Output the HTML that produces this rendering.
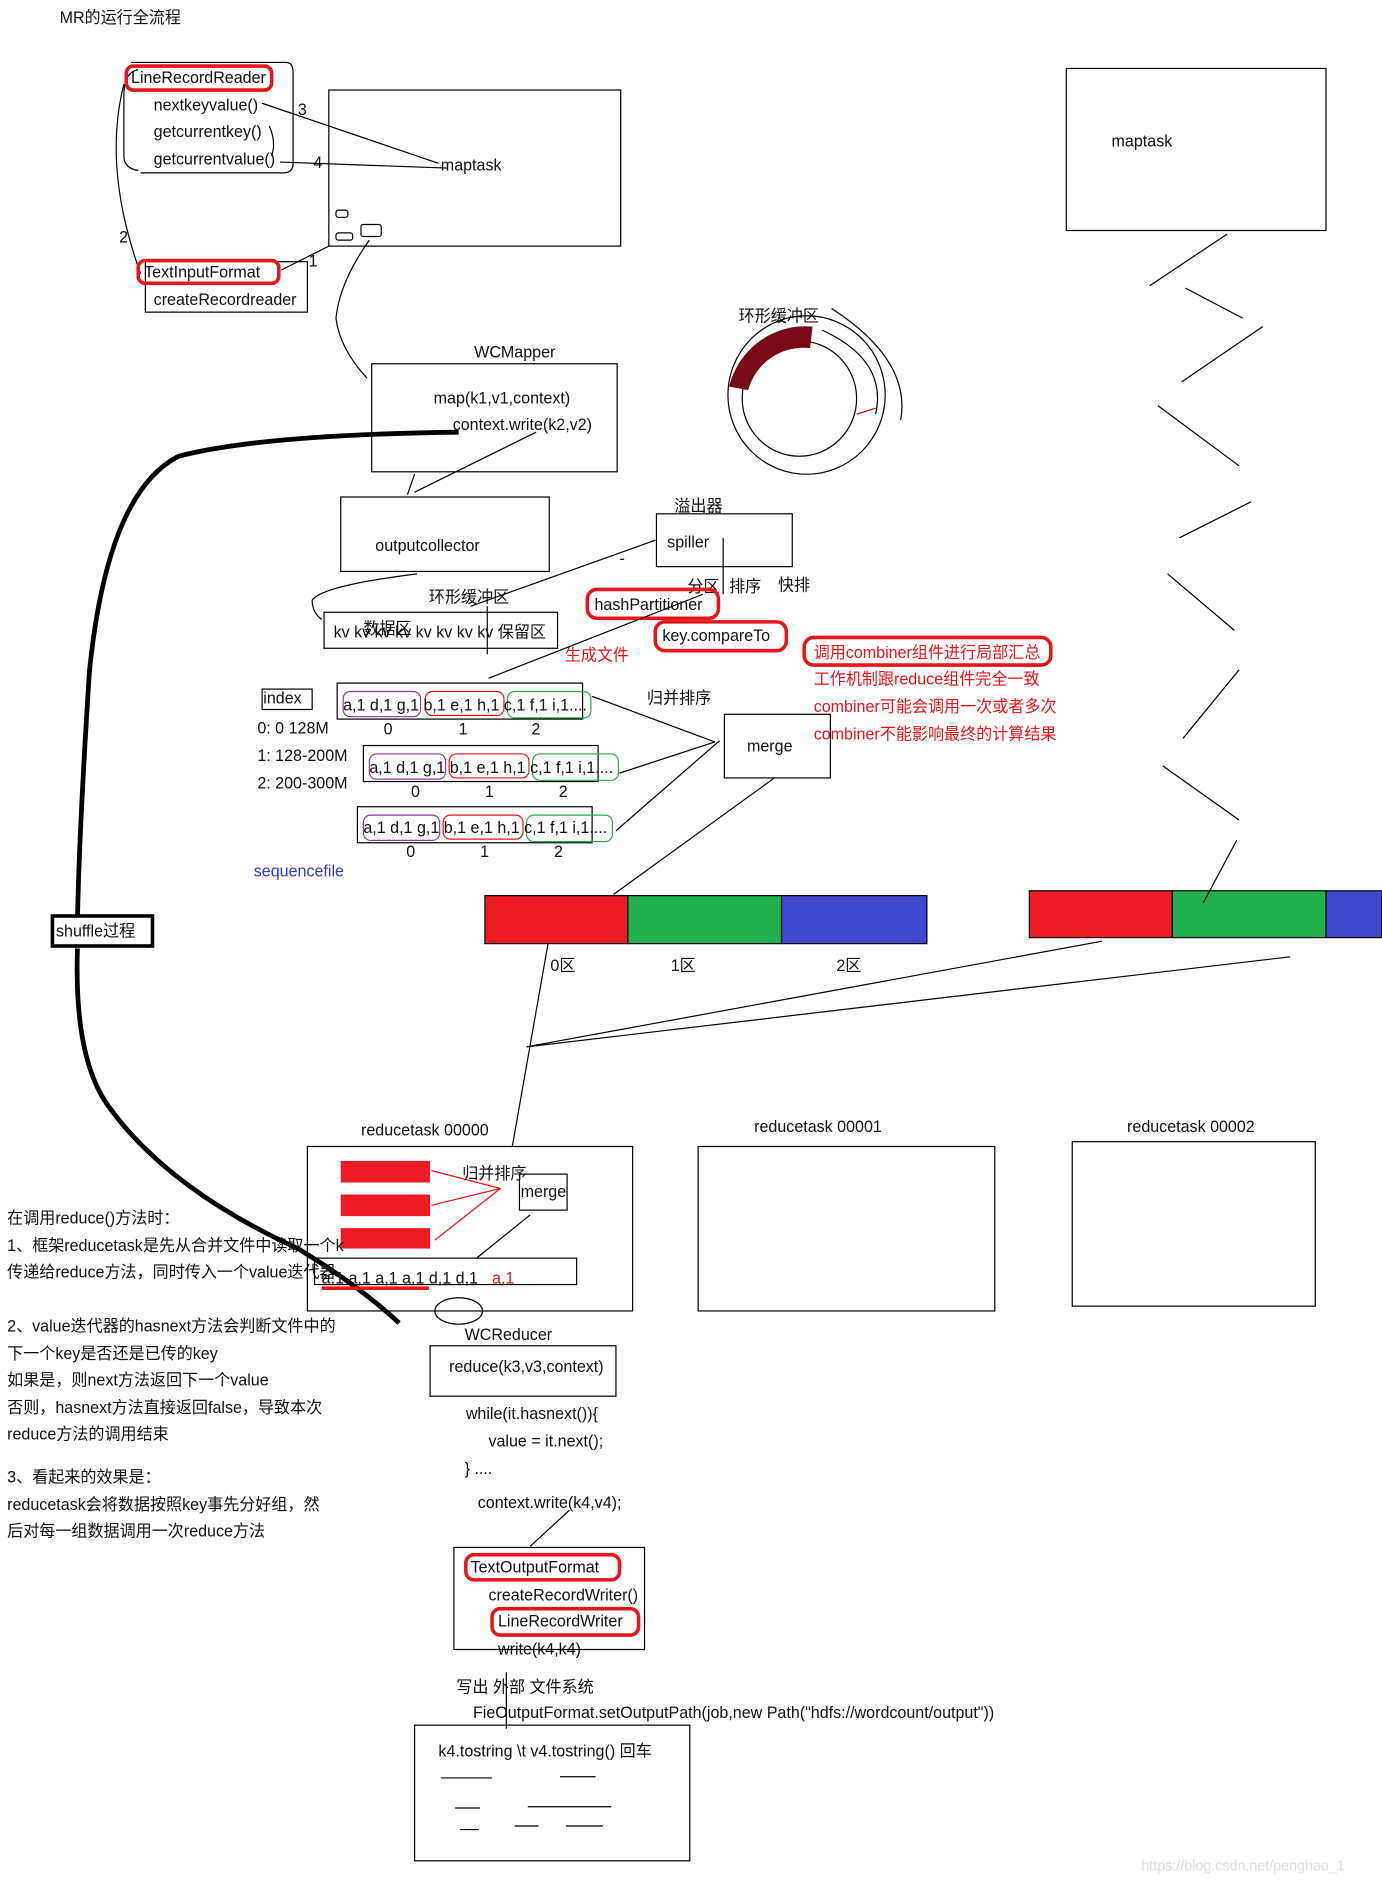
<!DOCTYPE html>
<html><head><meta charset="utf-8"><style>
html,body{margin:0;padding:0;background:#fff;}
svg{display:block;}
text{font-family:"Liberation Sans","Noto Sans CJK SC",sans-serif;font-size:13.5px;fill:#111;stroke:none;}
.r{fill:#e8161b;}
.b{fill:#3a3ad0;}
</style></head><body>
<svg width="1382" height="1880" viewBox="0 0 1160 1566" preserveAspectRatio="none" xmlns="http://www.w3.org/2000/svg">
<g fill="none" stroke="#000" stroke-width="1">
<text x="50" y="19">MR的运行全流程</text>

<path d="M110 52 H240 Q246 52 246 60 V136 Q246 144 238 144 H118"/>
<path d="M116 58 Q104 60 104 80 V130 Q104 140 116 142"/>
<rect x="106" y="55" width="122" height="20" rx="6" stroke="#e8161b" stroke-width="3"/>
<text x="110" y="69">LineRecordReader</text>
<text x="129" y="92">nextkeyvalue()</text>
<text x="129" y="114">getcurrentkey()</text>
<text x="129" y="137">getcurrentvalue()</text>
<text x="250" y="96">3</text>
<text x="263" y="140">4</text>
<line x1="220" y1="86" x2="368" y2="136"/>
<line x1="235" y1="135" x2="375" y2="140"/>
<path d="M226 105 Q232 118 228 130"/>
<path d="M104 70 Q86 140 118 228"/>
<text x="100" y="202">2</text>

<rect x="276" y="75" width="245" height="130"/>
<text x="370" y="142">maptask</text>
<rect x="282" y="175" width="10" height="6" rx="2"/>
<rect x="282" y="194" width="14" height="6" rx="2"/>
<rect x="303" y="187" width="17" height="10" rx="2"/>

<rect x="122" y="218" width="136" height="42"/>
<rect x="116" y="217" width="118" height="19" rx="6" stroke="#e8161b" stroke-width="3"/>
<text x="121" y="231">TextInputFormat</text>
<text x="129" y="254">createRecordreader</text>
<text x="259" y="222">1</text>
<line x1="236" y1="225" x2="276" y2="205"/>
<path d="M310 200 Q285 235 282 265 Q285 290 308 315"/>

<rect x="895" y="57" width="218" height="135"/>
<text x="933" y="122">maptask</text>

<text x="398" y="298">WCMapper</text>
<rect x="312" y="303" width="206" height="90"/>
<text x="364" y="336">map(k1,v1,context)</text>
<text x="380" y="358">context.write(k2,v2)</text>
<line x1="450" y1="360" x2="348" y2="410"/>
<line x1="348" y1="395" x2="342" y2="412"/>

<rect x="286" y="414" width="175" height="62"/>
<text x="315" y="459">outputcollector</text>
<path d="M350 478 Q270 488 262 500 Q262 510 270 516"/>
<text x="360" y="502">环形缓冲区</text>
<rect x="272" y="510" width="196" height="30"/>
<line x1="409" y1="505" x2="409" y2="545"/>
<text x="280" y="531">kv kv kv kv kv kv kv kv 保留区</text>
<text x="305" y="528">数据区</text>
<line x1="395" y1="505" x2="550" y2="450"/>
<text x="520" y="470">-</text>

<text x="620" y="268">环形缓冲区</text>
<circle cx="677" cy="329" r="66"/>
<circle cx="671" cy="332" r="48"/>
<path d="M612 322 A66 66 0 0 1 682 272 L680 290 A48 48 0 0 0 628 325 Z" fill="#7a0a18" stroke="none"/>
<path d="M698 257 Q765 300 756 350"/>
<path d="M690 275 Q745 300 735 345"/>
<line x1="719" y1="345" x2="735" y2="340" stroke="#c00"/>

<text x="566" y="426">溢出器</text>
<rect x="551" y="428" width="114" height="44"/>
<text x="560" y="456">spiller</text>
<line x1="607" y1="448" x2="607" y2="495"/>
<text x="577" y="493">分区</text>
<text x="612" y="493">排序</text>
<text x="653" y="492">快排</text>
<rect x="493" y="491" width="110" height="24" rx="8" stroke="#e8161b" stroke-width="3"/>
<text x="499" y="508">hashPartitioner</text>
<rect x="550" y="518" width="110" height="24" rx="8" stroke="#e8161b" stroke-width="3"/>
<text x="556" y="534">key.compareTo</text>
<text x="474" y="550" class="r">生成文件</text>
<line x1="590" y1="495" x2="410" y2="565"/>

<rect x="675" y="531" width="207" height="23" rx="8" stroke="#e8161b" stroke-width="3"/>
<text x="683" y="548" class="r">调用combiner组件进行局部汇总</text>
<text x="683" y="570" class="r">工作机制跟reduce组件完全一致</text>
<text x="683" y="593" class="r">combiner可能会调用一次或者多次</text>
<text x="683" y="616" class="r">combiner不能影响最终的计算结果</text>

<rect x="220" y="574" width="42" height="17"/>
<text x="221" y="586">index</text>
<text x="216" y="611">0: 0 128M</text>
<text x="216" y="634">1: 128-200M</text>
<text x="216" y="657">2: 200-300M</text>
<text x="543" y="586">归并排序</text>

<rect x="283" y="569" width="206" height="30"/>
<rect x="288" y="576" width="65" height="21" rx="6" stroke="#8a3aa8"/>
<rect x="357" y="576" width="66" height="20" rx="6" stroke="#e8161b"/>
<rect x="426" y="576" width="70" height="22" rx="6" stroke="#2aa84a"/>
<text x="288" y="592">a,1 d,1 g,1 b,1 e,1 h,1 c,1 f,1 i,1....</text>
<text x="322" y="612">0</text><text x="385" y="612">1</text><text x="446" y="612">2</text>

<rect x="305" y="621" width="197" height="30"/>
<rect x="310" y="628" width="64" height="21" rx="6" stroke="#8a3aa8"/>
<rect x="377" y="628" width="67" height="20" rx="6" stroke="#e8161b"/>
<rect x="447" y="628" width="72" height="22" rx="6" stroke="#2aa84a"/>
<text x="310" y="644">a,1 d,1 g,1 b,1 e,1 h,1 c,1 f,1 i,1....</text>
<text x="345" y="664">0</text><text x="407" y="664">1</text><text x="469" y="664">2</text>

<rect x="300" y="672" width="197" height="30"/>
<rect x="305" y="679" width="64" height="21" rx="6" stroke="#8a3aa8"/>
<rect x="372" y="679" width="67" height="20" rx="6" stroke="#e8161b"/>
<rect x="442" y="679" width="72" height="22" rx="6" stroke="#2aa84a"/>
<text x="305" y="694">a,1 d,1 g,1 b,1 e,1 h,1 c,1 f,1 i,1....</text>
<text x="341" y="714">0</text><text x="403" y="714">1</text><text x="465" y="714">2</text>
<text x="213" y="730" class="b">sequencefile</text>

<rect x="608" y="595" width="89" height="53"/>
<text x="627" y="626">merge</text>
<line x1="497" y1="580" x2="600" y2="618"/>
<line x1="520" y1="644" x2="600" y2="618"/>
<line x1="517" y1="692" x2="604" y2="617"/>
<line x1="650" y1="648" x2="515" y2="745"/>

<rect x="407" y="746" width="120" height="40" fill="#ed1c24"/>
<rect x="527" y="746" width="129" height="40" fill="#22b14c"/>
<rect x="656" y="746" width="122" height="40" fill="#3f48cc"/>
<text x="462" y="809">0区</text>
<text x="563" y="809">1区</text>
<text x="702" y="809">2区</text>
<rect x="864" y="742" width="120" height="39" fill="#ed1c24"/>
<rect x="984" y="742" width="129" height="39" fill="#22b14c"/>
<rect x="1113" y="742" width="47" height="39" fill="#3f48cc"/>

<line x1="460" y1="786" x2="430" y2="955"/>
<line x1="442" y1="872" x2="925" y2="784"/>
<line x1="442" y1="872" x2="1083" y2="797"/>

<line x1="1030" y1="195" x2="965" y2="238"/>
<line x1="995" y1="240" x2="1043" y2="265"/>
<line x1="1060" y1="272" x2="992" y2="318"/>
<line x1="972" y1="338" x2="1040" y2="388"/>
<line x1="1050" y1="418" x2="990" y2="448"/>
<line x1="980" y1="478" x2="1036" y2="525"/>
<line x1="1040" y1="558" x2="993" y2="615"/>
<line x1="976" y1="638" x2="1040" y2="683"/>
<line x1="1038" y1="700" x2="1010" y2="752"/>

<path d="M385 360 Q220 362 150 380 Q90 410 75 560 Q66 700 65 770" stroke-width="4"/>
<path d="M65 790 Q62 880 90 920 Q140 990 250 1040 Q300 1070 335 1102" stroke-width="4"/>
<rect x="44" y="763" width="84" height="25" fill="#fff" stroke-width="3"/>
<text x="47" y="780">shuffle过程</text>

<text x="303" y="946">reducetask 00000</text>
<rect x="258" y="955" width="273" height="137"/>
<text x="633" y="943">reducetask 00001</text>
<rect x="586" y="955" width="249" height="137"/>
<text x="946" y="943">reducetask 00002</text>
<rect x="900" y="951" width="204" height="137"/>

<rect x="286" y="967" width="75" height="18" fill="#ed1c24" stroke="none"/>
<rect x="286" y="995" width="75" height="18" fill="#ed1c24" stroke="none"/>
<rect x="286" y="1023" width="75" height="17" fill="#ed1c24" stroke="none"/>
<g stroke="#e8161b"><line x1="362" y1="975" x2="420" y2="990"/><line x1="362" y1="1004" x2="420" y2="990"/><line x1="365" y1="1033" x2="420" y2="990"/></g>
<text x="388" y="982">归并排序</text>
<rect x="436" y="978" width="40" height="30"/>
<text x="437" y="997">merge</text>
<line x1="445" y1="1012" x2="400" y2="1048"/>
<rect x="264" y="1048" width="220" height="22"/>
<text x="270" y="1069">a,1 a,1 a,1 a,1 d,1 d,1</text>
<text x="413" y="1069" class="r">a,1</text>
<line x1="270" y1="1073" x2="360" y2="1073" stroke="#e8161b" stroke-width="3"/>
<ellipse cx="385" cy="1092" rx="20" ry="11"/>

<text x="6" y="1019">在调用reduce()方法时：</text>
<text x="6" y="1042">1、框架reducetask是先从合并文件中读取一个k</text>
<text x="6" y="1064">传递给reduce方法，同时传入一个value迭代器</text>
<text x="6" y="1109">2、value迭代器的hasnext方法会判断文件中的</text>
<text x="6" y="1132">下一个key是否还是已传的key</text>
<text x="6" y="1154">如果是，则next方法返回下一个value</text>
<text x="6" y="1177">否则，hasnext方法直接返回false，导致本次</text>
<text x="6" y="1199">reduce方法的调用结束</text>
<text x="6" y="1235">3、看起来的效果是：</text>
<text x="6" y="1258">reducetask会将数据按照key事先分好组，然</text>
<text x="6" y="1280">后对每一组数据调用一次reduce方法</text>

<text x="390" y="1116">WCReducer</text>
<rect x="361" y="1121" width="156" height="42"/>
<text x="377" y="1143">reduce(k3,v3,context)</text>
<text x="391" y="1182">while(it.hasnext()){</text>
<text x="410" y="1205">value = it.next();</text>
<text x="390" y="1228">}    ....</text>
<text x="401" y="1256">context.write(k4,v4);</text>
<line x1="478" y1="1258" x2="445" y2="1288"/>

<rect x="381" y="1289" width="160" height="85"/>
<rect x="391" y="1295" width="129" height="21" rx="7" stroke="#e8161b" stroke-width="3"/>
<text x="395" y="1310">TextOutputFormat</text>
<text x="410" y="1333">createRecordWriter()</text>
<rect x="413" y="1340" width="123" height="22" rx="7" stroke="#e8161b" stroke-width="3"/>
<text x="418" y="1355">LineRecordWriter</text>
<text x="418" y="1378">write(k4,k4)</text>
<text x="383" y="1410">写出 外部 文件系统</text>
<text x="397" y="1431">FieOutputFormat.setOutputPath(job,new Path("hdfs://wordcount/output"))</text>
<line x1="425" y1="1393" x2="425" y2="1440"/>

<rect x="348" y="1437" width="231" height="113"/>
<text x="368" y="1463">k4.tostring \t v4.tostring()  回车</text>
<g><line x1="370" y1="1481" x2="413" y2="1481"/><line x1="470" y1="1480" x2="500" y2="1480"/><line x1="382" y1="1506" x2="403" y2="1506"/><line x1="443" y1="1505" x2="513" y2="1505"/><line x1="432" y1="1521" x2="452" y2="1521"/><line x1="475" y1="1521" x2="506" y2="1521"/><line x1="386" y1="1524" x2="402" y2="1524"/></g>
<text x="958" y="1558" style="fill:#ddd;font-size:12px">https://blog.csdn.net/penghao_1</text>
</g>
</svg>
</body></html>
